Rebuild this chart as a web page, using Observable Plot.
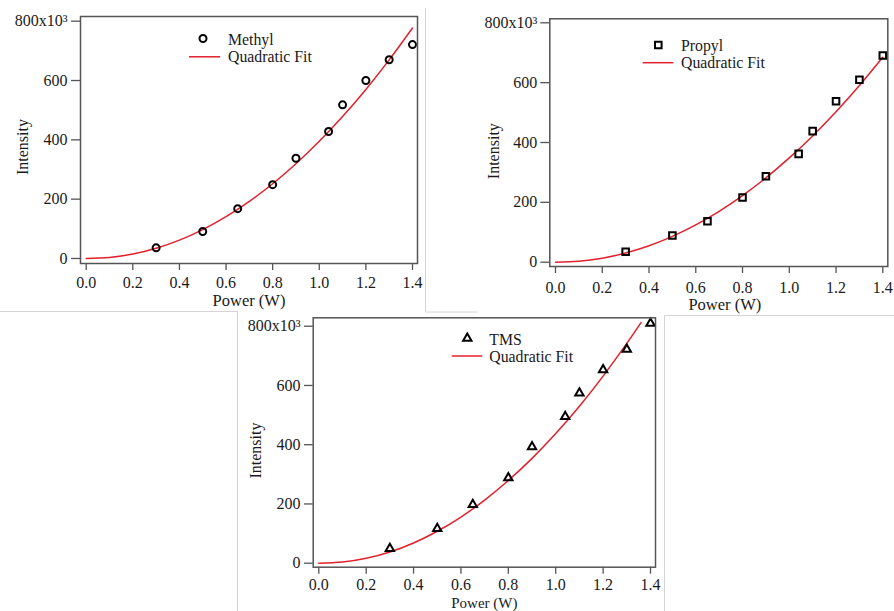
<!DOCTYPE html>
<html><head><meta charset="utf-8">
<script src="https://cdn.jsdelivr.net/npm/d3@7"></script>
<script src="https://cdn.jsdelivr.net/npm/@observablehq/plot@0.6"></script>
<style>
body{margin:0;background:#fff;}
#page{position:relative;width:894px;height:611px;overflow:hidden;font-family:"Liberation Serif",serif;background:#fff;}
.panel{position:absolute;}
.panel svg{overflow:visible;}
#overlay{position:absolute;left:0;top:0;pointer-events:none;}
</style></head><body><div id="page"></div>
<script>
// Measured data (intensity in units of 10^3)
const power = [0.3, 0.5, 0.65, 0.8, 0.9, 1.04, 1.1, 1.2, 1.3, 1.4];
const methyl = [36, 91, 168, 249, 338, 428, 518, 600, 670, 721];
const propyl = [35, 89, 137, 216, 287, 362, 438, 538, 610, 691];
const tms = [49, 117, 198, 288, 393, 495, 574, 653, 722, 810];

// Quadratic fit curves
const fitPower = [0, 0.1, 0.2, 0.3, 0.4, 0.5, 0.6, 0.7, 0.8, 0.9, 1.0, 1.1, 1.2, 1.3, 1.4];
const methylFit = [0, 3.5, 15, 34.5, 62, 97.5, 141, 192.5, 252, 319.5, 395, 478.5, 570, 669.5, 777];
const propylFit = [0, 3.2, 13.4, 30.6, 54.9, 86.3, 124.6, 170, 222.5, 282, 348.5, 422, 502.7, 590.3, 685];
const tmsFitPower = [0, 0.1, 0.2, 0.3, 0.4, 0.5, 0.6, 0.7, 0.8, 0.9, 1.0, 1.1, 1.2, 1.3, 1.36];
const tmsFit = [0, 3.8, 16.5, 38, 68.4, 107.8, 155.9, 213, 279, 353.8, 437.5, 530, 631.6, 741.9, 812];

const xTicks = [0, 0.2, 0.4, 0.6, 0.8, 1.0, 1.2, 1.4];
const yTicks = [0, 200, 400, 600, 800];
const yTickLabels = ["0", "200", "400", "600", "800x10\u00B3"];
const seriesNames = ["Methyl", "Propyl", "TMS"];
const fitName = "Quadratic Fit";
const xLabel = "Power (W)";
const yLabel = "Intensity";

const FONT = "Liberation Serif";
const TEXT = "#1a1a1a";
const AXIS = "#555";
const RED = "#e3202b";
const TICK_FS = 16;
const LEG_FS = 15.8;

const panels = [
  {name: seriesNames[0], values: methyl, fitX: fitPower, fitY: methylFit, symbol: "circle", r: 3.5,
   left: 0, top: 0, width: 425, height: 310, mL: 80, mR: 8, mT: 16, mB: 47,
   xDom: [-0.0245, 1.4215], yDom: [-16.9, 815.8], yTS: 9, yTP: 4, xTS: 7, xTP: 6,
   xlDx: 0, xlDy: 37, xlFs: 16.5, ylDx: -57.3, ylDy: 7,
   leg: {mx: 203, my: 38.5, tx: 228, b1: 44.8, b2: 62.4, l1: 189, l2: 220, ly: 56.8}},
  {name: seriesNames[1], values: propyl, fitX: fitPower, fitY: propylFit, symbol: "square", r: 3.7,
   left: 430, top: 0, width: 464, height: 315, mL: 119.3, mR: 6.7, mT: 18.3, mB: 49,
   xDom: [-0.0244, 1.4214], yDom: [-14.4, 813.4], yTS: 9, yTP: 3.5, xTS: 7, xTP: 8,
   xlDx: 6, xlDy: 38, xlFs: 16.5, ylDx: -56, ylDy: 8.5,
   leg: {mx: 658.3, my: 45, tx: 681, b1: 50.5, b2: 68, l1: 642.7, l2: 673.3, ly: 62.7}},
  {name: seriesNames[2], values: tms, fitX: tmsFitPower, fitY: tmsFit, symbol: "triangle", r: 3.1,
   left: 237, top: 311, width: 430, height: 300, mL: 75.7, mR: 12, mT: 6.3, mB: 44.3,
   xDom: [-0.0236, 1.4211], yDom: [-13.5, 828.4], yTS: 8.7, yTP: 4, xTS: 7, xTP: 4,
   xlDx: 0, xlDy: 36, xlFs: 15, ylDx: -57.7, ylDy: 8,
   leg: {mx: 467.3, my: 338.3, tx: 489.3, b1: 344.5, b2: 362, l1: 451.7, l2: 482.3, ly: 356}}
];

const page = document.getElementById("page");

for (const p of panels) {
  const pts = power.map((x, i) => ({x, y: p.values[i]}));
  const fit = p.fitX.map((x, i) => ({x, y: p.fitY[i]}));
  const chart = Plot.plot({
    width: p.width, height: p.height,
    marginLeft: p.mL, marginRight: p.mR, marginTop: p.mT, marginBottom: p.mB,
    style: {fontFamily: FONT, fontSize: TICK_FS + "px", color: TEXT, background: "transparent"},
    x: {domain: p.xDom},
    y: {domain: p.yDom},
    marks: [
      Plot.axisX(xTicks, {tickSize: p.xTS, tickPadding: p.xTP, tickFormat: d => d.toFixed(1),
        stroke: AXIS, strokeWidth: 1.3, fill: TEXT, fontSize: TICK_FS, label: null}),
      Plot.axisY(yTicks, {tickSize: p.yTS, tickPadding: p.yTP, tickFormat: d => yTickLabels[yTicks.indexOf(d)],
        stroke: AXIS, strokeWidth: 1.3, fill: TEXT, fontSize: TICK_FS, label: null}),
      Plot.line(fit, {x: "x", y: "y", stroke: RED, strokeWidth: 1.5, curve: "natural"}),
      Plot.dot(pts, {x: "x", y: "y", symbol: p.symbol, r: p.r, stroke: "#000", strokeWidth: 2, fill: "none"}),
      Plot.frame({stroke: AXIS, strokeWidth: 1.5}),
      Plot.text([xLabel], {text: d => d, frameAnchor: "bottom", dx: p.xlDx, dy: p.xlDy,
        textAnchor: "middle", lineAnchor: "middle", fontSize: p.xlFs, fill: TEXT}),
      Plot.text([yLabel], {text: d => d, frameAnchor: "left", rotate: -90, dx: p.ylDx, dy: p.ylDy,
        textAnchor: "middle", lineAnchor: "middle", fontSize: 16, fill: TEXT})
    ]
  });
  const div = document.createElement("div");
  div.className = "panel";
  div.style.left = p.left + "px";
  div.style.top = p.top + "px";
  div.appendChild(chart);
  page.appendChild(div);
}

// Overlay: legends and the thin separators of the composite figure
const svg = d3.create("svg").attr("id", "overlay").attr("width", 894).attr("height", 611);
const seps = [
  [425.5, 8, 425.5, 311.5], [0, 311.5, 238, 311.5], [237.5, 311.5, 237.5, 611],
  [664.5, 315.5, 664.5, 611], [664.5, 315.5, 894, 315.5], [425.5, 312, 477, 312]
];
svg.selectAll("line.sep").data(seps).join("line").attr("class", "sep")
  .attr("x1", d => d[0]).attr("y1", d => d[1]).attr("x2", d => d[2]).attr("y2", d => d[3])
  .attr("stroke", "#d4d4d4").attr("stroke-width", 1);

const symMap = {circle: d3.symbolCircle, square: d3.symbolSquare, triangle: d3.symbolTriangle};
for (const p of panels) {
  const L = p.leg;
  svg.append("path")
    .attr("d", d3.symbol(symMap[p.symbol], Math.PI * p.r * p.r)())
    .attr("transform", `translate(${L.mx},${L.my})`)
    .attr("fill", "none").attr("stroke", "#000").attr("stroke-width", 2);
  svg.append("line").attr("x1", L.l1).attr("x2", L.l2).attr("y1", L.ly).attr("y2", L.ly)
    .attr("stroke", RED).attr("stroke-width", 1.5);
  svg.append("text").attr("x", L.tx).attr("y", L.b1).text(p.name)
    .attr("font-family", FONT).attr("font-size", LEG_FS).attr("fill", TEXT);
  svg.append("text").attr("x", L.tx).attr("y", L.b2).text(fitName)
    .attr("font-family", FONT).attr("font-size", LEG_FS).attr("fill", TEXT);
}
page.appendChild(svg.node());
</script>
</body></html>
